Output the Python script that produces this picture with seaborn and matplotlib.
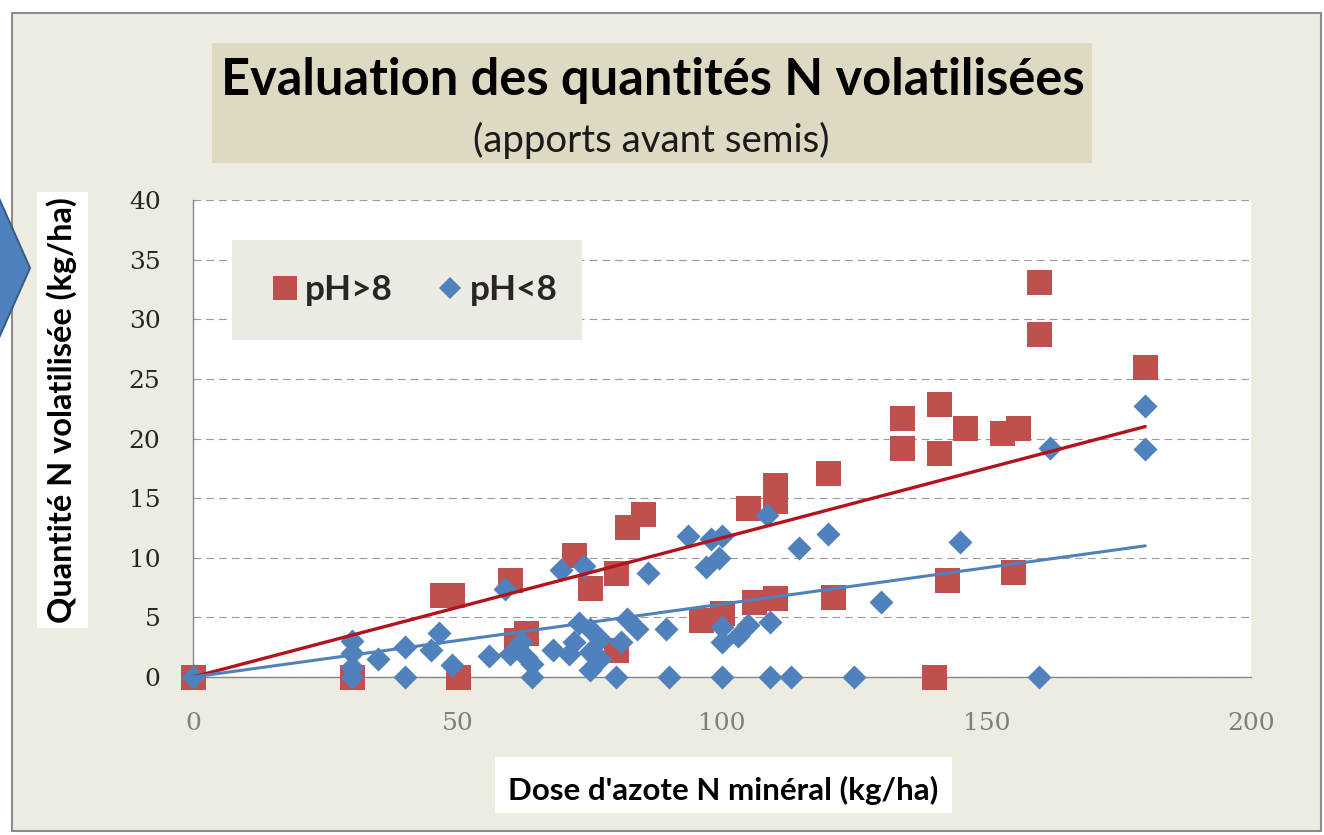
import numpy as np
import pandas as pd
import seaborn as sns
import matplotlib
matplotlib.use("Agg")
import matplotlib.pyplot as plt
from matplotlib.patches import Rectangle, Polygon
from matplotlib.lines import Line2D

# ---------------- data ----------------
series_labels = ["pH>8", "pH<8"]

red_x = [0, 30, 47, 49, 50, 60, 61, 63, 72, 75, 80, 80, 82, 85, 96, 100, 106, 110,
         105, 110, 110, 120, 121, 134, 134, 141, 141, 140, 142.5, 146, 153, 156, 155,
         160, 160, 180]
red_y = [0, 0, 6.9, 6.9, 0, 8.1, 3.1, 3.7, 10.2, 7.5, 8.7, 2.3, 12.6, 13.7, 4.8, 5.4,
         6.3, 6.6, 14.2, 16.1, 14.8, 17.1, 6.7, 21.7, 19.2, 22.9, 18.8, 0, 8.1, 20.9,
         20.5, 20.9, 8.8, 33.1, 28.8, 26.0]

blue_x = [0, 30, 30, 30, 30, 35, 40, 40, 45, 46.5, 49, 56, 59, 60, 62, 63, 64, 64,
          68, 69.5, 71, 72, 73, 74, 75, 75, 75, 77, 77, 80, 82, 81, 84, 86, 89.5, 90,
          93.5, 98, 100, 97, 99.5, 100, 100, 103, 105, 109, 108.5, 100, 109, 113,
          114.5, 120, 125, 130, 145, 160, 162, 180, 180]
blue_y = [0, 3.0, 2.0, 0.8, 0, 1.5, 2.5, 0, 2.3, 3.7, 1.0, 1.8, 7.4, 1.9, 2.9, 1.7, 1.1, 0,
          2.3, 9.0, 1.9, 2.9, 4.5, 9.3, 4.0, 2.1, 0.6, 3.2, 1.5, 0, 4.9, 2.9, 4.0, 8.7, 4.0, 0,
          11.8, 11.6, 11.8, 9.2, 10.0, 4.2, 2.9, 3.4, 4.4, 4.6, 13.6, 0, 0, 0,
          10.8, 12.0, 0, 6.3, 11.3, 0, 19.2, 22.7, 19.1]

trend_x = [0, 180]
red_trend = [0, 21.0]
blue_trend = [0, 11.0]

x_ticks = [0, 50, 100, 150, 200]
y_ticks = [0, 5, 10, 15, 20, 25, 30, 35, 40]

title = "Evaluation des quantités N volatilisées"
subtitle = "(apports avant semis)"
xlabel = "Dose d'azote N minéral (kg/ha)"
ylabel = "Quantité N volatilisée (kg/ha)"

# ---------------- style ----------------
W, H = 1324, 835
sns.set_style("white")
plt.rcParams['font.family'] = ['Lato', 'DejaVu Sans']

RED = '#C0504D'
BLUE = '#4F81BD'

fig = plt.figure(figsize=(W / 100, H / 100), dpi=100)
fig.patch.set_facecolor('white')


def fx(x):
    return x / W


def fy(y):
    return 1 - y / H


def frect(x0, y0, x1, y1, **kw):
    r = Rectangle((fx(x0), fy(y1)), (x1 - x0) / W, (y1 - y0) / H,
                  transform=fig.transFigure, **kw)
    fig.add_artist(r)
    return r


# outer beige panel with border
frect(12, 13, 1321, 831, facecolor='#EEECE1', edgecolor='#8C8C8C', lw=1.5, zorder=-10)
# title box
frect(212, 43, 1092, 163, facecolor='#DDD9C3', edgecolor='none', zorder=-9)
# axis-label boxes
frect(37, 192, 88, 628, facecolor='white', edgecolor='none', zorder=-9)
frect(495, 757, 952, 813, facecolor='white', edgecolor='none', zorder=-9)
# blue arrow decoration
arrow = Polygon([(fx(-2), fy(196)), (fx(30), fy(268)), (fx(-2), fy(340))],
                closed=True, transform=fig.transFigure, facecolor=BLUE,
                edgecolor='#385D8A', lw=1.5, zorder=-8)
fig.add_artist(arrow)

# ---------------- axes ----------------
ax = fig.add_axes([fx(193), fy(677), (1251 - 193) / W, (677 - 200) / H])
ax.set_facecolor('white')

df_red = pd.DataFrame({'x': red_x, 'y': red_y})
df_blue = pd.DataFrame({'x': blue_x, 'y': blue_y})

sns.scatterplot(data=df_red, x='x', y='y', marker='s', s=324, color=RED,
                linewidth=0, ax=ax, zorder=3, legend=False, clip_on=False)
sns.scatterplot(data=df_blue, x='x', y='y', marker='D', s=150, color=BLUE,
                linewidth=0, ax=ax, zorder=4, legend=False, clip_on=False)
sns.lineplot(x=trend_x, y=red_trend, color='#B3131D', lw=2.4, ax=ax, zorder=5)
sns.lineplot(x=trend_x, y=blue_trend, color=BLUE, lw=2.2, ax=ax, zorder=5)

ax.set_xlim(0, 200)
ax.set_ylim(0, 40)
ax.set_xticks(x_ticks)
ax.set_yticks(y_ticks)
ax.set_xticklabels([str(v) for v in x_ticks])
ax.set_yticklabels([str(v) for v in y_ticks])
ax.set_xlabel('')
ax.set_ylabel('')

for s in ['top', 'right']:
    ax.spines[s].set_visible(False)
for s in ['left', 'bottom']:
    ax.spines[s].set_color('#868686')
    ax.spines[s].set_linewidth(1.0)

ax.tick_params(axis='both', direction='out', length=9.4, width=0.8, color='#868686')
ax.tick_params(axis='x', labelcolor='#7F7F7F', pad=16)
ax.tick_params(axis='y', labelcolor='#262626', pad=14)
for lab in ax.get_xticklabels() + ax.get_yticklabels():
    lab.set_fontfamily('DejaVu Serif')
    lab.set_fontsize(18)

ax.yaxis.grid(True, linestyle=(0, (7, 4.5)), color='#9A9A9A', lw=0.8)
ax.xaxis.grid(False)
ax.set_axisbelow(True)

# legend box
lb = Rectangle((fx(232), fy(340)), (582 - 232) / W, (340 - 240) / H,
               transform=fig.transFigure, facecolor='#ECEAE2', edgecolor='none', zorder=1)
ax.add_patch(lb)

renderer = fig.canvas.get_renderer()


def fit(t, target, vertical=False):
    bb = t.get_window_extent(renderer=renderer)
    w = bb.height if vertical else bb.width
    t.set_fontsize(t.get_fontsize() * target / w)


# texts
t_title = fig.text(fx(653), fy(95), title, ha='center', va='baseline',
                   fontweight='bold', fontsize=30, color='black')
fit(t_title, 862)
t_sub = fig.text(fx(651), fy(152), subtitle, ha='center', va='baseline',
                 fontsize=18, color='#1a1a1a')
fit(t_sub, 355)
t_xl = fig.text(fx(723), fy(790), xlabel, ha='center', va='center',
                fontweight='bold', fontsize=16, color='black')
fit(t_xl, 431)
t_yl = fig.text(fx(62), fy(410), ylabel, ha='center', va='center', rotation=90,
                fontweight='bold', fontsize=16, color='black')
fit(t_yl, 428, vertical=True)

# legend font size fit
probe = fig.text(0, 0, series_labels[0], fontweight='bold', fontsize=20)
bb = probe.get_window_extent(renderer=renderer)
leg_fs = 20 * 88 / bb.width
probe.remove()
F = leg_fs * 100 / 72  # px

handles = [Line2D([], [], marker='s', color=RED, ls='none', markersize=17, markeredgewidth=0),
           Line2D([], [], marker='D', color=BLUE, ls='none', markersize=11.5, markeredgewidth=0)]
leg = ax.legend(handles, series_labels, ncol=2, frameon=False,
                loc='center left', bbox_to_anchor=(fx(272), fy(290)),
                bbox_transform=fig.transFigure, borderpad=0, borderaxespad=0,
                handlelength=26 / F, handletextpad=7 / F, columnspacing=44 / F,
                prop={'weight': 'bold', 'size': leg_fs})
leg.set_zorder(6)

fig.savefig('out.png', dpi=100)
